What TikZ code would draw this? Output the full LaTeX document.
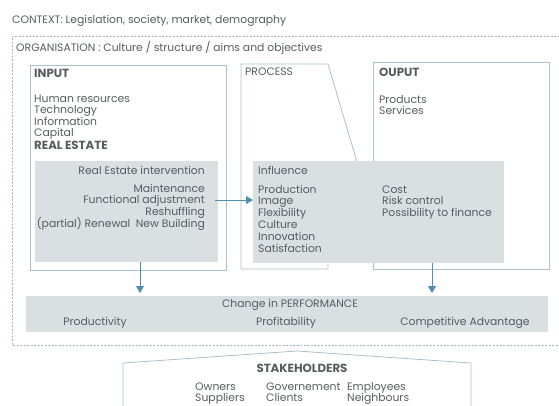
\documentclass[tikz,border=0pt]{standalone}
\usepackage{fontspec}
\setmainfont{Poppins}
\usetikzlibrary{arrows.meta,calc}
\definecolor{txtc}{HTML}{585C60}
\definecolor{linec}{HTML}{A9C1CC}
\definecolor{fillc}{HTML}{DADFE2}
\definecolor{arrc}{HTML}{4F8FAE}
\definecolor{dashc}{HTML}{A6B6BF}
\tikzset{
  txt/.style={inner sep=0pt, text=txtc, font=\fontsize{10.8}{13}\selectfont},
  wtxt/.style={txt, anchor=base west},
  etxt/.style={txt, anchor=base east},
  ctxt/.style={txt, anchor=base},
  boldtxt/.style={font=\fontsize{11.8}{14}\selectfont\bfseries},
  framebox/.style={draw=linec, line width=0.8pt, inner sep=0pt, anchor=north west},
  greybox/.style={fill=fillc, draw=none, inner sep=0pt, anchor=north west},
  flow/.style={draw=arrc, line width=0.8pt, -{Triangle[length=7pt,width=8pt]}},
  orgline/.style={draw=dashc, line width=0.7pt, dash pattern=on 2pt off 1.5pt},
}
\begin{document}
\begin{tikzpicture}[x=1pt,y=-1pt]
\useasboundingbox (0,0) rectangle (559,405);
% context
\node[wtxt] (context) at (12,23) {CONTEXT: Legislation, society, market, demography};
% organisation dashed frame
\draw[orgline] (570,36) -- (12,36) -- (12,345) -- (570,345);
\node[wtxt] (org) at (16,51) {ORGANISATION : Culture / structure / aims and objectives};
% input box
\node[framebox, minimum width=196pt, minimum height=205pt] (input) at (30,65) {};
% process shape
\draw[draw=linec, line width=0.8pt] (241,64) -- (328,64) -- (357,162) -- (328,262) -- (328,269) -- (241,269) -- cycle;
% output box
\node[framebox, minimum width=176pt, minimum height=207pt] (output) at (373,62) {};
% grey boxes
\node[greybox, minimum width=183pt, minimum height=101pt] (regrey) at (35,161) {};
\node[greybox, minimum width=251pt, minimum height=102pt] (infgrey) at (253,161) {};
\node[greybox, minimum width=522pt, minimum height=36pt] (perf) at (26,296) {};
% input texts
\node[wtxt, boldtxt] (inputt) at (34,77) {INPUT};
\foreach \t/\y [count=\i] in {Human resources/102,Technology/113.5,Information/125,Capital/136.5}
  \node[wtxt] (in\i) at (34,\y) {\t};
\node[wtxt, boldtxt] (realestate) at (34,149.5) {REAL ESTATE};
% process / output titles
\node[wtxt] (processt) at (245,75) {PROCESS};
\node[wtxt, boldtxt] (outputt) at (379,76.5) {OUPUT};
\node[wtxt] (out1) at (379,103) {Products};
\node[wtxt] (out2) at (379,114.5) {Services};
% real estate intervention texts
\node[etxt] (rei) at (205,174.5) {Real Estate intervention};
\foreach \t/\y [count=\i] in {Maintenance/192,Functional adjustment/203.5,Reshuffling/215,{(partial) Renewal\enspace New Building}/227}
  \node[etxt] (re\i) at (205,\y) {\t};
% influence texts
\node[wtxt] (infl) at (258,174.5) {Influence};
\foreach \t/\y [count=\i] in {Production/193,Image/204.5,Flexibility/216.5,Culture/228,Innovation/240,Satisfaction/252}
  \node[wtxt] (inf\i) at (258,\y) {\t};
\foreach \t/\y [count=\i] in {Cost/193,Risk control/204.5,Possibility to finance/216.5}
  \node[wtxt] (fin\i) at (382,\y) {\t};
% performance texts
\node[ctxt] (perft) at (290,307) {Change in PERFORMANCE};
\node[ctxt] (prod) at (95,325) {Productivity};
\node[ctxt] (prof) at (286,325) {Profitability};
\node[ctxt] (comp) at (465,325) {Competitive Advantage};
% arrows
\coordinate (a1) at (215,200);
\draw[flow] (a1) -- (a1 -| infgrey.west);
\coordinate (a2) at (140,262);
\draw[flow, shorten >=3pt] (a2) -- (a2 |- perf.north);
\coordinate (a3) at (432,263);
\draw[flow, shorten >=3pt] (a3) -- (a3 |- perf.north);
% stakeholders
\draw[draw=linec, line width=0.8pt] (123,410) -- (123,363) -- (297,351) -- (471,363) -- (471,410);
\node[ctxt, boldtxt] (stake) at (302,372.5) {STAKEHOLDERS};
\node[wtxt] (s1) at (195,390.5) {Owners};
\node[wtxt] (s2) at (195,401.5) {Suppliers};
\node[wtxt] (s3) at (266,390.5) {Governement};
\node[wtxt] (s4) at (266,401.5) {Clients};
\node[wtxt] (s5) at (347,390.5) {Employees};
\node[wtxt] (s6) at (347,401.5) {Neighbours};
\end{tikzpicture}
\end{document}
